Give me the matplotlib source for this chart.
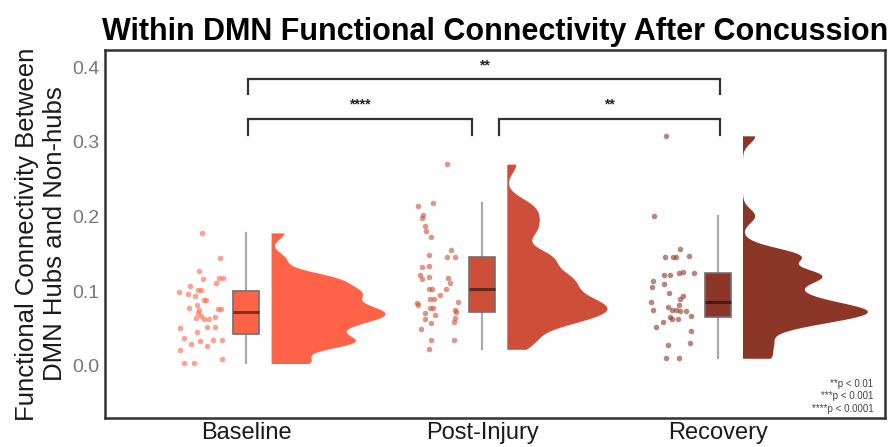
import numpy as np
import matplotlib.pyplot as plt

plt.rcParams['font.family'] = ['Liberation Sans', 'DejaVu Sans']

# data
groups = ['Baseline', 'Post-Injury', 'Recovery']
colors = ['#FF6347', '#CD4F39', '#8B3626']

baseline = [0.178, 0.144, 0.127, 0.116, 0.118, 0.118, 0.111, 0.107, 0.099, 0.096,
            0.101, 0.101, 0.093, 0.088, 0.088, 0.077, 0.082, 0.076, 0.076, 0.075,
            0.070, 0.066, 0.064, 0.063, 0.062, 0.065, 0.051, 0.052, 0.052, 0.045,
            0.037, 0.029, 0.033, 0.027, 0.035, 0.034, 0.021, 0.009, 0.003, 0.003]
baseline_jit = [-0.189, -0.111, -0.199, -0.182, -0.117, -0.100, -0.128, -0.239, -0.287, -0.249,
                -0.206, -0.192, -0.216, -0.178, -0.171, -0.242, -0.211, -0.121, -0.107, -0.199,
                -0.206, -0.192, -0.213, -0.157, -0.180, -0.133, -0.281, -0.167, -0.133, -0.209,
                -0.264, -0.234, -0.195, -0.168, -0.143, -0.105, -0.280, -0.103, -0.263, -0.223]

post_injury = [0.270, 0.214, 0.218, 0.202, 0.198, 0.187, 0.181, 0.173, 0.155, 0.148,
               0.145, 0.145, 0.132, 0.134, 0.122, 0.119, 0.118, 0.116, 0.111, 0.103,
               0.103, 0.103, 0.095, 0.089, 0.089, 0.085, 0.084, 0.082, 0.078, 0.077,
               0.074, 0.072, 0.070, 0.068, 0.064, 0.057, 0.058, 0.062, 0.049, 0.035,
               0.035, 0.022]
post_injury_jit = [-0.147, -0.270, -0.206, -0.249, -0.256, -0.244, -0.237, -0.218, -0.131, -0.227,
                   -0.150, -0.114, -0.256, -0.227, -0.264, -0.227, -0.143, -0.256, -0.136, -0.227,
                   -0.213, -0.153, -0.178, -0.203, -0.222, -0.100, -0.274, -0.272, -0.222, -0.208,
                   -0.114, -0.110, -0.242, -0.199, -0.114, -0.218, -0.121, -0.240, -0.261, -0.218,
                   -0.121, -0.226]

recovery = [0.308, 0.201, 0.157, 0.146, 0.146, 0.145, 0.147, 0.122, 0.121, 0.124,
            0.125, 0.124, 0.113, 0.110, 0.105, 0.097, 0.093, 0.090, 0.085, 0.079,
            0.075, 0.082, 0.075, 0.074, 0.073, 0.065, 0.063, 0.066, 0.073, 0.058,
            0.052, 0.062, 0.046, 0.028, 0.031, 0.010, 0.011]
recovery_jit = [-0.220, -0.271, -0.158, -0.225, -0.189, -0.175, -0.123, -0.227, -0.201, -0.163,
                -0.146, -0.100, -0.273, -0.226, -0.278, -0.205, -0.149, -0.161, -0.282, -0.212,
                -0.275, -0.165, -0.192, -0.175, -0.158, -0.203, -0.196, -0.112, -0.133, -0.231,
                -0.262, -0.167, -0.114, -0.210, -0.118, -0.218, -0.164]

values = [baseline, post_injury, recovery]
jitters = [baseline_jit, post_injury_jit, recovery_jit]

# significance brackets: (from group, to group, label)
comparisons = [(0, 1, '****'), (1, 2, '**'), (0, 2, '**')]
p_notes = ['**p < 0.01', '***p < 0.001', '****p < 0.0001']


def nrd0(x):
    x = np.asarray(x)
    q75, q25 = np.percentile(x, [75, 25])
    lo = min(np.std(x, ddof=1), (q75 - q25) / 1.34)
    return 0.9 * lo * len(x) ** (-0.2)


def kde(x, grid, adjust=0.5):
    x = np.asarray(x)
    bw = nrd0(x) * adjust
    d = np.exp(-0.5 * ((grid[:, None] - x[None, :]) / bw) ** 2).sum(axis=1)
    return d / (len(x) * bw * np.sqrt(2 * np.pi))


fig = plt.figure(figsize=(8.94, 4.47), dpi=100)
ax = fig.add_axes([0.1174, 0.0649, 0.8726, 0.8233])

grids = [np.linspace(min(v), max(v), 400) for v in values]
dens = [kde(v, g) for v, g in zip(values, grids)]
dmax = max(d.max() for d in dens)

for i, (v, jit, col) in enumerate(zip(values, jitters, colors)):
    # rain
    ax.scatter(i + np.array(jit), v, s=16, color=col, alpha=0.6, lw=0, zorder=3)
    # cloud
    w = dens[i] / dmax * 0.53
    ax.fill_betweenx(grids[i], i + 0.105, i + 0.105 + w, color=col, lw=0, zorder=2)
    # box
    bp = ax.boxplot([v], positions=[i], widths=0.11, patch_artist=True,
                    showfliers=False, showcaps=False, manage_ticks=False)
    for b in bp['boxes']:
        b.set(facecolor=col, edgecolor='#707070', linewidth=1.2, zorder=4)
    for wh in bp['whiskers']:
        wh.set(color='#a8a8a8', linewidth=1.6, zorder=3)
    for m in bp['medians']:
        m.set(color='black', alpha=0.5, linewidth=2.2, zorder=5)

# brackets
levels = {(0, 1): (0.331, 0.309), (1, 2): (0.331, 0.309), (0, 2): (0.3835, 0.3635)}
pads = {(0, 1): (0.008, -0.044), (1, 2): (0.073, 0.008), (0, 2): (0.008, 0.008)}
for a, b, lab in comparisons:
    top, low = levels[(a, b)]
    x0, x1 = a + pads[(a, b)][0], b + pads[(a, b)][1]
    ax.plot([x0, x0, x1, x1], [low, top, top, low], color='#333333', lw=1.6,
            solid_joinstyle='miter', zorder=6)
    ax.text((x0 + x1) / 2, top + 0.01, lab, ha='center', va='bottom',
            fontsize=10, fontweight='bold', color='#222222')

ax.text(0.985, 0.012, '\n'.join(p_notes), transform=ax.transAxes, ha='right',
        va='bottom', fontsize=7, color='#444444', linespacing=1.3)

ax.set_xlim(-0.6, 2.71)
ax.set_ylim(-0.07, 0.423)
ax.set_xticks(range(len(groups)))
ax.set_xticklabels(groups, fontsize=17, color='#1a1a1a')
ax.set_yticks([0.0, 0.1, 0.2, 0.3, 0.4])
ax.set_yticklabels(['0.0', '0.1', '0.2', '0.3', '0.4'], fontsize=14, color='#777777')
ax.tick_params(length=0, pad=3)
ax.tick_params(axis='y', pad=4)
for s in ax.spines.values():
    s.set_linewidth(1.8)
    s.set_color('#333333')

ax.set_ylabel('Functional Connectivity Between\nDMN Hubs and Non-hubs', fontsize=18.5,
              color='#1a1a1a', linespacing=1.2, labelpad=4)
ax.set_title('Within DMN Functional Connectivity After Concussion', fontsize=22,
             fontweight='heavy', pad=7)

fig.savefig('out.png', dpi=100)
